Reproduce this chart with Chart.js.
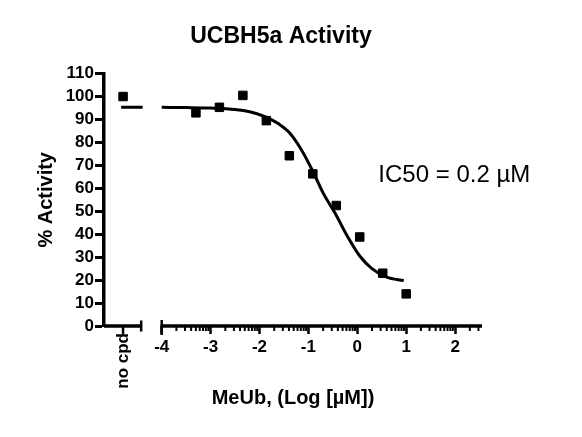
<!DOCTYPE html>
<html>
<head>
<meta charset="utf-8">
<script src="https://cdn.jsdelivr.net/npm/chart.js@4/dist/chart.umd.min.js"></script>
<style>
  html, body { margin: 0; padding: 0; background: #fff; }
  canvas { display: block; }
</style>
</head>
<body>
<canvas id="chart" width="582" height="437"></canvas>
<script>
// UCBH5a dose-response, values

// measured points: log10 concentration (uM) and % activity
const doseLog = [-3.30, -2.82, -2.34, -1.86, -1.39, -0.91, -0.43, 0.05, 0.52, 1.00];
const activity = [92.9, 95.3, 100.5, 89.5, 74.2, 66.3, 52.5, 38.8, 23.0, 14.0];

// fitted curve
const fitLog = [-4.0, -3.5, -3.0, -2.5, -2.2, -1.9, -1.6, -1.4, -1.15, -0.9, -0.7, -0.45, -0.2, 0.05, 0.3, 0.6, 0.95];
const fitActivity = [95.3, 95.2, 95.0, 94.4, 93.4, 91.4, 88.0, 84.5, 77.0, 67.0, 58.0, 49.0, 39.0, 30.5, 25.0, 21.3, 19.8];

// "no cpd" control, drawn left of the axis break
const NO_CPD_X = -4.79;
const noCpdActivity = [100];
const noCpdPlateau = [95.3, 95.3];
const noCpdPlateauX = [-4.83, -4.39];

// axis layout (in log units)
const X_MIN = -5.18;
const X_MAX = 2.55;
const BREAK_END = -4.42;
const xTicks = [-4, -3, -2, -1, 0, 1, 2];
const minorOffsets = [0.301, 0.477, 0.602, 0.699, 0.778, 0.845, 0.903, 0.954];
const yTicksMax = 110;

const IC50_TEXT = 'IC50 = 0.2 µM';
const IC50_AT = { x: 0.43, y: 62.7 };

const FONT = '"Liberation Sans", Arial, Helvetica, sans-serif';
Chart.defaults.font.family = FONT;
Chart.defaults.color = '#000';

const xy = (xs, ys) => xs.map((v, i) => ({ x: v, y: ys[i] }));

// broken x axis, minor ticks, "no cpd" label and the IC50 note
const axisDeco = {
  id: 'axisDeco',
  afterDraw(chart) {
    const { ctx, scales: { x, y } } = chart;
    const px = v => x.getPixelForValue(v);
    const y0 = y.getPixelForValue(0);
    const seg = (x1, y1, x2, y2) => { ctx.beginPath(); ctx.moveTo(x1, y1); ctx.lineTo(x2, y2); ctx.stroke(); };
    ctx.save();
    ctx.strokeStyle = '#000';
    ctx.lineCap = 'butt';

    ctx.lineWidth = 3.5;
    seg(px(X_MIN), y0, px(BREAK_END), y0);
    seg(px(-4) - 1, y0, px(X_MAX), y0);

    ctx.lineWidth = 2.5;
    seg(px(BREAK_END), y0 - 5.5, px(BREAK_END), y0 + 5.5);
    seg(px(-4), y0 - 6, px(-4), y0 + 9);
    seg(px(NO_CPD_X), y0, px(NO_CPD_X), y0 + 8.5);

    ctx.lineWidth = 2;
    for (let d = -4; d <= 2; d++) {
      minorOffsets.forEach(m => {
        const v = d + m;
        if (v <= X_MAX) seg(px(v), y0, px(v), y0 + 5);
      });
    }

    ctx.fillStyle = '#000';
    ctx.font = 'bold 17px ' + FONT;
    ctx.translate(px(NO_CPD_X), y0 + 7);
    ctx.rotate(-Math.PI / 2);
    ctx.textAlign = 'right';
    ctx.textBaseline = 'middle';
    ctx.fillText('no cpd', 0, 0);
    ctx.restore();

    ctx.save();
    ctx.fillStyle = '#000';
    ctx.font = '24px ' + FONT;
    ctx.textAlign = 'left';
    ctx.textBaseline = 'alphabetic';
    ctx.fillText(IC50_TEXT, px(IC50_AT.x), y.getPixelForValue(IC50_AT.y));
    ctx.restore();
  }
};

new Chart(document.getElementById('chart'), {
  type: 'line',
  data: {
    datasets: [
      {
        label: 'fit',
        data: xy(fitLog, fitActivity),
        borderColor: '#000',
        borderWidth: 3,
        pointRadius: 0,
        cubicInterpolationMode: 'monotone',
        fill: false
      },
      {
        label: 'no cpd plateau',
        data: xy(noCpdPlateauX, noCpdPlateau),
        borderColor: '#000',
        borderWidth: 3,
        pointRadius: 0,
        fill: false
      },
      {
        label: 'UCBH5a',
        data: xy(doseLog, activity),
        showLine: false,
        pointStyle: 'rect',
        pointRadius: 6,
        borderWidth: 1,
        borderColor: '#000',
        backgroundColor: '#000'
      },
      {
        label: 'no cpd',
        data: xy([NO_CPD_X], noCpdActivity),
        showLine: false,
        pointStyle: 'rect',
        pointRadius: 6,
        borderWidth: 1,
        borderColor: '#000',
        backgroundColor: '#000'
      }
    ]
  },
  options: {
    responsive: false,
    animation: false,
    layout: { padding: { left: 0, right: 20, top: 0, bottom: 0 } },
    plugins: {
      legend: { display: false },
      tooltip: { enabled: false },
      title: {
        display: true,
        text: 'UCBH5a Activity',
        color: '#000',
        font: { size: 23, weight: 'bold' },
        padding: { top: 23, bottom: 23 }
      }
    },
    scales: {
      x: {
        type: 'linear',
        min: X_MIN,
        max: X_MAX,
        afterBuildTicks: s => { s.ticks = xTicks.map(v => ({ value: v })); },
        afterFit: s => { s.height = 111; },
        border: { display: false },
        grid: { drawOnChartArea: false, drawTicks: true, tickLength: 8, tickWidth: 2.5, tickColor: '#000' },
        ticks: { font: { size: 17, weight: 'bold' }, color: '#000', padding: 3, maxRotation: 0, autoSkip: false },
        title: {
          display: true,
          text: 'MeUb, (Log [µM])',
          color: '#000',
          font: { size: 20, weight: 'bold' },
          padding: { top: 0, bottom: 27 }
        }
      },
      y: {
        min: 0,
        max: yTicksMax,
        afterFit: s => { s.width = 104; },
        border: { display: true, color: '#000', width: 3.5 },
        grid: { drawOnChartArea: false, drawTicks: true, tickLength: 9, tickWidth: 3, tickColor: '#000' },
        ticks: { stepSize: 10, autoSkip: false, font: { size: 17, weight: 'bold' }, color: '#000', padding: 1 },
        title: {
          display: true,
          text: '% Activity',
          color: '#000',
          font: { size: 20, weight: 'bold' },
          padding: { top: 34, bottom: 0 }
        }
      },
      spare: {
        position: 'right',
        display: true,
        grid: { display: false },
        border: { display: false },
        ticks: { display: false },
        afterFit: s => { s.width = 80; }
      }
    }
  },
  plugins: [axisDeco]
});
</script>
</body>
</html>
